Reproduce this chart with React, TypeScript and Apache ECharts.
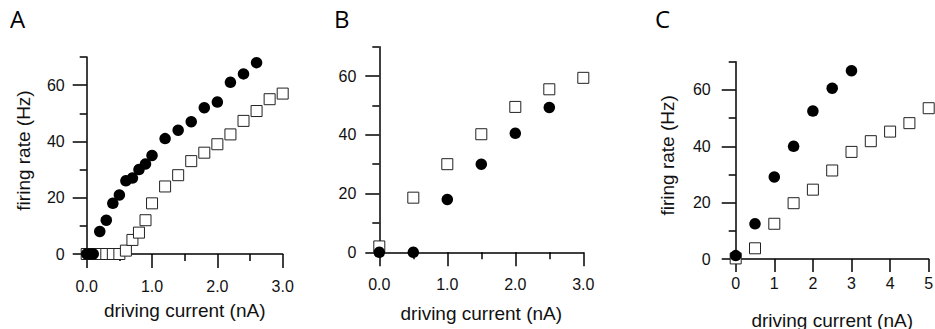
import React, { useEffect, useRef } from "react";
import * as echarts from "echarts";

// Panel A
const aCircleX = [0, 0.05, 0.1, 0.2, 0.3, 0.4, 0.5, 0.6, 0.7, 0.8, 0.9, 1.0, 1.2, 1.4, 1.6, 1.8, 2.0, 2.2, 2.4, 2.6];
const aCircleY = [0, 0, 0, 8, 12, 18, 21, 26, 27, 30, 32, 35, 41, 44, 47, 52, 54, 61, 64, 68];
const aSquareX = [0, 0.1, 0.2, 0.3, 0.4, 0.5, 0.6, 0.7, 0.8, 0.9, 1.0, 1.2, 1.4, 1.6, 1.8, 2.0, 2.2, 2.4, 2.6, 2.8, 3.0];
const aSquareY = [0, 0, 0, 0, 0, 0, 1.2, 5, 7.6, 12, 18, 24, 28, 33, 36, 39, 42.5, 47.3, 50.8, 55, 57];

// Panel B
const bCircleX = [0, 0.5, 1.0, 1.5, 2.0, 2.5];
const bCircleY = [0, 0, 18, 30, 40.5, 49.3];
const bSquareX = [0, 0.5, 1.0, 1.5, 2.0, 2.5, 3.0];
const bSquareY = [2, 18.6, 30, 40.2, 49.5, 55.5, 59.4];

// Panel C
const cCircleX = [0, 0.5, 1, 1.5, 2, 2.5, 3];
const cCircleY = [1.2, 12.5, 29.1, 40, 52.5, 60.6, 66.8];
const cSquareX = [0, 0.5, 1, 1.5, 2, 2.5, 3, 3.5, 4, 4.5, 5];
const cSquareY = [0.2, 3.8, 12.5, 19.8, 24.6, 31.4, 38, 41.8, 45.2, 48.2, 53.5];

// Text
const panelLabels = ["A", "B", "C"];
const xAxisTitle = "driving current (nA)";
const yAxisTitle = "firing rate (Hz)";
const yMajorTicks = [0, 20, 40, 60];
const yMinorTicks = [10, 30, 50, 70];

const FONT = "Liberation Sans";
const LINE = { color: "#000", width: 1.5 };

const zip = (xs: number[], ys: number[]) => xs.map((x, i) => [x, ys[i]]);

function mainY(gridIndex: number, name: string | null, nameGap: number, labelMargin: number) {
  const ax: any = {
    type: "value",
    gridIndex,
    min: 0,
    max: 70,
    interval: 10,
    axisLine: { show: true, lineStyle: LINE },
    axisTick: { show: true, length: 14, customValues: yMajorTicks, lineStyle: LINE },
    axisLabel: { show: true, customValues: yMajorTicks, margin: labelMargin, fontFamily: FONT, fontSize: 16, color: "#111" },
    splitLine: { show: false },
  };
  if (name) {
    ax.name = name;
    ax.nameLocation = "middle";
    ax.nameGap = nameGap;
    ax.nameTextStyle = { fontFamily: FONT, fontSize: 19, color: "#111", padding: [0, 0, 0, 10] };
  }
  return ax;
}

function minorY(gridIndex: number) {
  return {
    type: "value",
    gridIndex,
    min: 0,
    max: 70,
    interval: 10,
    position: "left",
    axisLine: { show: false },
    axisTick: { show: true, length: 7, customValues: yMinorTicks, lineStyle: LINE },
    axisLabel: { show: false },
    splitLine: { show: false },
  };
}

function xAx(gridIndex: number, max: number, minor: boolean, decimals: number, nameGap: number, labelMargin: number, tickLen: number) {
  return {
    type: "value",
    gridIndex,
    min: 0,
    max,
    interval: 1,
    name: xAxisTitle,
    nameLocation: "middle",
    nameGap,
    nameTextStyle: { fontFamily: FONT, fontSize: 19, color: "#111" },
    axisLine: { show: true, lineStyle: LINE },
    axisTick: { show: true, length: tickLen, lineStyle: LINE },
    minorTick: { show: minor, splitNumber: 2, length: 7, lineStyle: LINE },
    axisLabel: {
      show: true,
      margin: labelMargin,
      fontFamily: FONT,
      fontSize: 16,
      color: "#111",
      formatter: (v: number) => v.toFixed(decimals),
    },
    splitLine: { show: false },
  };
}

function squares(axis: number, xs: number[], ys: number[]) {
  return {
    type: "scatter",
    xAxisIndex: axis,
    yAxisIndex: axis,
    symbol: "rect",
    symbolSize: 11,
    itemStyle: { color: "#fff", borderColor: "#222", borderWidth: 1, opacity: 1 },
    data: zip(xs, ys),
  };
}

function circles(axis: number, xs: number[], ys: number[]) {
  return {
    type: "scatter",
    xAxisIndex: axis,
    yAxisIndex: axis,
    symbol: "circle",
    symbolSize: 11.5,
    itemStyle: { color: "#000", opacity: 1 },
    data: zip(xs, ys),
  };
}

const letterLeft = [10, 334, 655];

export default function App() {
  const ref = useRef<HTMLDivElement>(null);
  useEffect(() => {
    document.body.style.margin = "0";
    if (!ref.current) return;
    const chart = echarts.init(ref.current, null, { renderer: "svg" });
    chart.setOption({
      animation: false,
      backgroundColor: "#fff",
      grid: [
        { left: 86.7, top: 57, width: 196, height: 197, outerBoundsMode: "none" },
        { left: 379.3, top: 46.7, width: 204, height: 205.6, outerBoundsMode: "none" },
        { left: 735.7, top: 61.7, width: 193, height: 197.3, outerBoundsMode: "none" },
      ],
      xAxis: [
        xAx(0, 3, true, 1, 47, 24, 14),
        xAx(1, 3, true, 1, 52, 24, 14),
        xAx(2, 5, false, 0, 52, 16, 13),
      ],
      yAxis: [
        mainY(0, yAxisTitle, 54, 22),
        mainY(1, null, 54, 23),
        mainY(2, yAxisTitle, 59, 25),
        minorY(0),
        minorY(1),
        minorY(2),
      ],
      series: [
        squares(0, aSquareX, aSquareY),
        circles(0, aCircleX, aCircleY),
        squares(1, bSquareX, bSquareY),
        circles(1, bCircleX, bCircleY),
        squares(2, cSquareX, cSquareY),
        circles(2, cCircleX, cCircleY),
      ],
    });
    return () => chart.dispose();
  }, []);
  return (
    <div>
      <div ref={ref} style={{ position: "absolute", left: 0, top: 0, width: 935, height: 329 }} />
      {panelLabels.map((t, i) => (
        <div
          key={t}
          style={{
            position: "absolute",
            left: letterLeft[i],
            top: 1.7,
            fontFamily: "Open Sans",
            fontSize: 24,
            lineHeight: "normal",
            color: "#000",
          }}
        >
          {t}
        </div>
      ))}
    </div>
  );
}
